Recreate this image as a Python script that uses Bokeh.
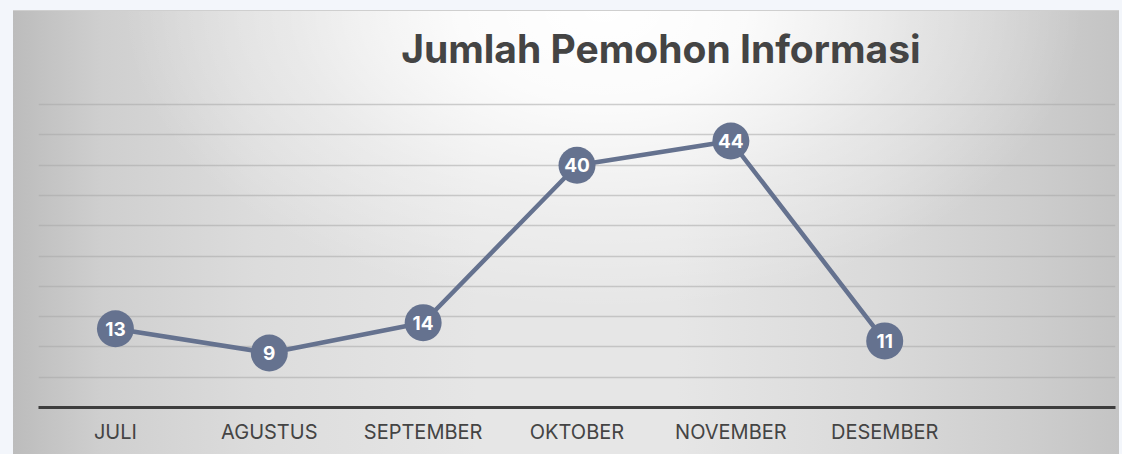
from bokeh.plotting import figure
from bokeh.models import ColumnDataSource, FixedTicker, Label, Range1d
from bokeh.embed import file_html
from bokeh.resources import INLINE
from bokeh.core.properties import value

# ---- data ----
months = ["JULI", "AGUSTUS", "SEPTEMBER", "OKTOBER", "NOVEMBER", "DESEMBER"]
counts = [13, 9, 14, 40, 44, 11]
grid_ticks = [5, 10, 15, 20, 25, 30, 35, 40, 45, 50]
title_text = "Jumlah Pemohon Informasi"

n_slots = len(months) + 1
xs = [i + 0.5 for i in range(len(months))]
src = ColumnDataSource(dict(x=xs, y=counts, label=[str(c) for c in counts]))

LINE_COLOR = "#65728f"
TEXT_COLOR = "#444444"

p = figure(
    width=1122, height=454,
    output_backend="svg", toolbar_location=None,
    x_range=Range1d(0, n_slots), y_range=Range1d(0, 67.2),
    min_border_left=38, min_border_right=7, min_border_top=0, min_border_bottom=47,
)
p.background_fill_color = None
p.border_fill_color = None
p.outline_line_color = None
p.styles = {
    "background": (
        "linear-gradient(#cfcfcf,#cfcfcf) 13px 10px / 1106px 1px no-repeat, "
        "radial-gradient(ellipse 480px 300px at 590px 0px, rgba(255,255,255,1) 0%, rgba(255,255,255,0.85) 30%, rgba(255,255,255,0.35) 65%, rgba(255,255,255,0) 100%) 13px 10px / 1106px 444px no-repeat, "
        "linear-gradient(to right, #bcbcbc 0%, #cfcfcf 8%, #dcdcdc 22%, #e6e6e6 42%, #e6e6e6 60%, #dadada 78%, #cdcdcd 92%, #c4c4c4 100%) 13px 10px / 1106px 444px no-repeat, "
        "#f3f6fb"
    )
}

# axes
p.yaxis.visible = False
xa = p.xaxis[0]
xa.ticker = FixedTicker(ticks=xs)
xa.major_label_overrides = {x: m for x, m in zip(xs, months)}
xa.axis_line_color = "#3d3d3d"
xa.axis_line_width = 3
xa.major_tick_line_color = None
xa.minor_tick_line_color = None
xa.major_label_standoff = 6
xa.major_label_text_font = "Inter"
xa.major_label_text_font_size = "20px"
xa.major_label_text_color = TEXT_COLOR

# grid
p.xgrid.visible = False
p.ygrid.ticker = FixedTicker(ticks=grid_ticks)
p.ygrid.grid_line_color = "#a8a8a8"
p.ygrid.grid_line_width = 1.5
p.ygrid.grid_line_alpha = 0.55

# series
p.line("x", "y", source=src, line_color=LINE_COLOR, line_width=4.5)
p.scatter("x", "y", source=src, size=37, fill_color=LINE_COLOR, line_color=None)
p.text("x", "y", text="label", source=src, text_align="center", text_baseline="middle",
       text_color="white", text_font=value("Inter"), text_font_style="bold",
       text_font_size="19px")

# title
p.add_layout(Label(x=4.045, y=59.3, text=title_text, text_align="center",
                   text_baseline="middle", text_font="Inter", text_font_style="bold",
                   text_font_size="39px", text_color=TEXT_COLOR))

open("out.html", "w").write(file_html(p, INLINE))
